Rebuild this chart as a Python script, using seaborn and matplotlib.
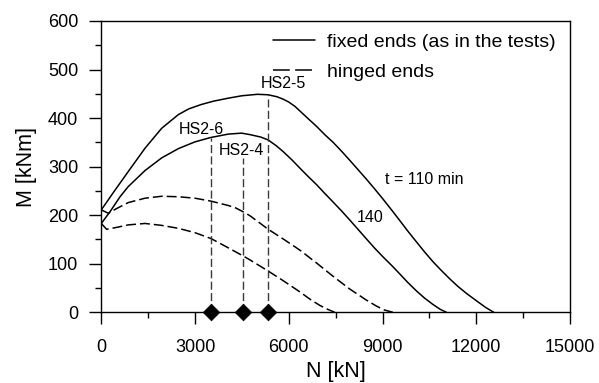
import numpy as np
import pandas as pd
import matplotlib
matplotlib.use("Agg")
import matplotlib.pyplot as plt
from matplotlib.lines import Line2D
from matplotlib.ticker import MultipleLocator
import seaborn as sns

# M-N interaction curves at two fire exposure times
fixed_110_N = [0, 400, 864, 1400, 1932, 2463, 2800, 3200, 3600, 4062, 4500, 5000, 5340,
               5620, 5820, 6000, 6200, 6400, 6600, 6888, 7150, 7420, 7700, 7953, 8200,
               8487, 8750, 9018, 9300, 9552, 9800, 10086, 10350, 10617, 10900, 11150,
               11400, 11685, 12000, 12300, 12560]
fixed_110_M = [211, 248, 290, 338, 379, 407, 419, 428, 435, 441, 446, 449, 448,
               444, 439, 433, 424, 412, 400, 383, 366, 350, 331, 313, 295,
               274, 254, 233, 210, 189, 168, 145, 124, 104, 85, 69,
               54, 39, 24, 10, 0]

fixed_140_N = [0, 278, 600, 864, 1400, 1932, 2463, 2997, 3500, 4062, 4490, 4755, 5100,
               5340, 5600, 5820, 6100, 6355, 6600, 6888, 7150, 7420, 7700, 7953, 8200,
               8487, 8750, 9018, 9300, 9552, 9800, 10086, 10350, 10617, 10850, 11045]
fixed_140_M = [183, 207, 238, 259, 292, 318, 337, 351, 360, 367, 369, 366, 361,
               355, 343, 331, 314, 297, 281, 263, 245, 227, 208, 190, 172,
               151, 132, 114, 96, 79, 62, 44, 29, 16, 6, 0]

hinged_110_N = [0, 224, 500, 864, 1400, 1932, 2463, 2997, 3508, 4062, 4300, 4541, 4755,
                5050, 5340, 5800, 6195, 6355, 6900, 7420, 7950, 8487, 8800, 9050, 9330]
hinged_110_M = [211, 204, 214, 226, 235, 239, 238, 235, 229, 220, 215, 207, 199,
                185, 171, 152, 135, 128, 101, 74, 48, 25, 13, 5, 0]

hinged_140_N = [0, 170, 500, 864, 1400, 1932, 2463, 2997, 3508, 4000, 4541, 4755, 5340,
                5800, 6195, 6355, 6700, 7000, 7250, 7470]
hinged_140_M = [183, 171, 175, 180, 183, 179, 173, 164, 152, 135, 116, 108, 85,
                66, 49, 42, 26, 14, 6, 0]

# Test specimens: axial load and the moment where the marker line meets the curve
specimens = ["HS2-6", "HS2-4", "HS2-5"]
spec_N = [3500, 4520, 5340]
spec_M_top = [358, 317, 447]

x_ticks = [0, 3000, 6000, 9000, 12000, 15000]
y_ticks = [0, 100, 200, 300, 400, 500, 600]


def curve(N, M, ends, t):
    return pd.DataFrame({"N": N, "M": M, "ends": ends, "t": t})


df = pd.concat([
    curve(fixed_110_N, fixed_110_M, "fixed", 110),
    curve(fixed_140_N, fixed_140_M, "fixed", 140),
    curve(hinged_110_N, hinged_110_M, "hinged", 110),
    curve(hinged_140_N, hinged_140_M, "hinged", 140),
], ignore_index=True)
spec_df = pd.DataFrame({"N": spec_N, "M": [0] * len(spec_N), "name": specimens})

sns.set_style("ticks")
plt.rcParams["font.family"] = ["Liberation Sans", "DejaVu Sans"]
plt.rcParams["axes.linewidth"] = 1.0
plt.rcParams["text.color"] = "black"
plt.rcParams["axes.labelcolor"] = "black"
plt.rcParams["xtick.color"] = "black"
plt.rcParams["ytick.color"] = "black"
plt.rcParams["lines.solid_joinstyle"] = "round"
plt.rcParams["lines.dash_joinstyle"] = "round"

fig = plt.figure(figsize=(5.99, 3.83), dpi=100)
ax = fig.add_axes([0.1691, 0.1846, 0.9516 - 0.1691, 0.9452 - 0.1846])

curve_dash = (6.5, 2.6)
sns.lineplot(data=df, x="N", y="M", style="ends", units="t", estimator=None, sort=False,
             dashes={"fixed": "", "hinged": curve_dash}, color="black", linewidth=1.1,
             legend=False, ax=ax)

# vertical guide lines from each specimen up to its curve
for n, top in zip(spec_N, spec_M_top):
    ax.plot([n, n], [0, top], color="#3a3a3a", linewidth=1.0, dashes=(5.8, 2.4), zorder=2)

sns.scatterplot(data=spec_df, x="N", y="M", marker="D", s=72, color="black",
                edgecolor="black", linewidth=0.5, ax=ax, zorder=5, clip_on=False, legend=False)

ann_fs = 11.5
ax.text(3211, 367, "HS2-6", ha="center", va="baseline", fontsize=ann_fs)
ax.text(4490, 324, "HS2-4", ha="center", va="baseline", fontsize=ann_fs)
ax.text(5820, 461, "HS2-5", ha="center", va="baseline", fontsize=ann_fs)
ax.text(9073, 264, "t = 110 min", ha="left", va="baseline", fontsize=ann_fs)
ax.text(8187, 187, "140", ha="left", va="baseline", fontsize=ann_fs)

ax.set_xlim(0, 15000)
ax.set_ylim(0, 600)
ax.set_xticks(x_ticks)
ax.set_yticks(y_ticks)
ax.set_xticklabels([str(v) for v in x_ticks])
ax.set_yticklabels([str(v) for v in y_ticks])
ax.xaxis.set_minor_locator(MultipleLocator(1500))
ax.yaxis.set_minor_locator(MultipleLocator(50))
ax.tick_params(which="major", direction="out", length=8.5, width=1.0, labelsize=13,
               color="black", labelcolor="black")
ax.tick_params(which="minor", direction="out", length=4.5, width=1.0, color="black")
ax.tick_params(axis="x", which="major", pad=11)
ax.tick_params(axis="y", which="major", pad=8)
for side in ["top", "right", "left", "bottom"]:
    ax.spines[side].set_visible(True)
    ax.spines[side].set_color("black")

ax.set_xlabel("N [kN]", fontsize=15.5, labelpad=3)
ax.set_ylabel("M [kNm]", fontsize=15.5, labelpad=8)

handles = [Line2D([], [], color="black", linewidth=1.1),
           Line2D([], [], color="black", linewidth=1.1, dashes=(11, 3.5))]
ax.legend(handles, ["fixed ends (as in the tests)", "hinged ends"], loc="upper left",
          bbox_to_anchor=(0.366, 0.958), frameon=False, fontsize=14, borderpad=0,
          borderaxespad=0, handlelength=2.16, handletextpad=0.6, labelspacing=0.62)

fig.savefig("out.png", dpi=100)
